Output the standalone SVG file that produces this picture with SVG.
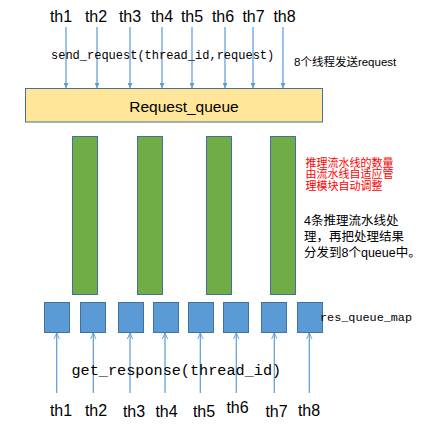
<svg xmlns="http://www.w3.org/2000/svg" width="430" height="430" viewBox="0 0 430 430">
<defs>
<marker id="tri" viewBox="0 0 10 10" refX="10" refY="5" markerWidth="5" markerHeight="5" orient="auto" markerUnits="userSpaceOnUse">
<path d="M0,0 L10,5 L0,10 z" fill="#5B9BD5"/>
</marker>
<marker id="open" viewBox="0 0 10 10" refX="9" refY="5" markerWidth="7" markerHeight="7" orient="auto" markerUnits="userSpaceOnUse">
<path d="M0,1 L9,5 L0,9" fill="none" stroke="#5B9BD5" stroke-width="1.3"/>
</marker>
<style>
.th{font-family:"Liberation Sans","DejaVu Sans",sans-serif;font-size:16px;fill:#000;text-anchor:middle}
.mono{font-family:"Liberation Mono","DejaVu Sans Mono",monospace;fill:#000}
.cjk{font-family:"Liberation Sans","Noto Sans CJK SC",sans-serif}
.arr{stroke:#5B9BD5;stroke-width:1.2;fill:none}
.pipe{fill:#70AD47;stroke:#41719C;stroke-width:1}
.q{fill:#5B9BD5;stroke:#41719C;stroke-width:1}
</style>
</defs>
<rect width="430" height="430" fill="#fff"/>
<g id="labels-top">
<text class="th" x="61" y="22">th1</text>
<text class="th" x="96" y="22">th2</text>
<text class="th" x="130" y="22">th3</text>
<text class="th" x="162" y="22">th4</text>
<text class="th" x="192" y="22">th5</text>
<text class="th" x="223" y="22">th6</text>
<text class="th" x="253.5" y="22">th7</text>
<text class="th" x="284.5" y="22">th8</text>
</g>
<g id="connectors">
<line class="arr" x1="66" y1="27" x2="66" y2="88" marker-end="url(#tri)"/>
<line class="arr" x1="97" y1="27" x2="97" y2="88" marker-end="url(#tri)"/>
<line class="arr" x1="130" y1="27" x2="130" y2="88" marker-end="url(#tri)"/>
<line class="arr" x1="162" y1="27" x2="162" y2="88" marker-end="url(#tri)"/>
<line class="arr" x1="192" y1="27" x2="192" y2="88" marker-end="url(#tri)"/>
<line class="arr" x1="225" y1="27" x2="225" y2="88" marker-end="url(#tri)"/>
<line class="arr" x1="253" y1="27" x2="253" y2="88" marker-end="url(#tri)"/>
<line class="arr" x1="283" y1="27" x2="283" y2="88" marker-end="url(#tri)"/>
<line class="arr" x1="56.7" y1="393" x2="56.7" y2="333" marker-end="url(#open)"/>
<line class="arr" x1="93.3" y1="393" x2="93.3" y2="333" marker-end="url(#open)"/>
<line class="arr" x1="130" y1="393" x2="130" y2="333" marker-end="url(#open)"/>
<line class="arr" x1="165" y1="393" x2="165" y2="333" marker-end="url(#open)"/>
<line class="arr" x1="200.3" y1="393" x2="200.3" y2="333" marker-end="url(#open)"/>
<line class="arr" x1="236.3" y1="393" x2="236.3" y2="333" marker-end="url(#open)"/>
<line class="arr" x1="274.3" y1="393" x2="274.3" y2="333" marker-end="url(#open)"/>
<line class="arr" x1="309.3" y1="393" x2="309.3" y2="333" marker-end="url(#open)"/>
</g>
<text class="mono" x="51" y="59" font-size="12">send_request(thread_id,request)</text>
<text class="cjk" x="294" y="66" font-size="11.5" fill="#000">8个线程发送request</text>
<g id="request-queue">
<rect x="25.5" y="88.5" width="297" height="33.5" fill="#FFE699" stroke="#41719C" stroke-width="1"/>
<text x="184" y="112" font-family="Liberation Sans,DejaVu Sans,sans-serif" font-size="15.5" text-anchor="middle" fill="#000">Request_queue</text>
</g>
<g id="pipelines">
<rect class="pipe" x="72.5" y="136.5" width="25" height="158"/>
<rect class="pipe" x="137.5" y="136.5" width="25" height="158"/>
<rect class="pipe" x="206.5" y="136.5" width="25" height="158"/>
<rect class="pipe" x="270.5" y="136.5" width="25" height="158"/>
</g>
<g id="note-red" class="cjk" font-size="11" fill="#FF0000">
<text x="305.5" y="166.5">推理流水线的数量</text>
<text x="305.5" y="178">由流水线自适应管</text>
<text x="305.5" y="189.5">理模块自动调整</text>
</g>
<g id="note-black" class="cjk" font-size="12.5" fill="#000">
<text x="304" y="225">4条推理流水线处</text>
<text x="304" y="241">理，再把处理结果</text>
<text x="304" y="257">分发到8个queue中。</text>
</g>
<g id="res-queues">
<rect class="q" x="44.5" y="302.5" width="25" height="30"/>
<rect class="q" x="80.5" y="302.5" width="25" height="30"/>
<rect class="q" x="118.5" y="302.5" width="25" height="30"/>
<rect class="q" x="153.5" y="302.5" width="25" height="30"/>
<rect class="q" x="188.5" y="302.5" width="25" height="30"/>
<rect class="q" x="223.5" y="302.5" width="25" height="30"/>
<rect class="q" x="261.5" y="302.5" width="25" height="30"/>
<rect class="q" x="297.5" y="302.5" width="25" height="30"/>
</g>
<text class="mono" x="320" y="321" font-size="11.8">res_queue_map</text>
<text class="mono" x="71.5" y="375" font-size="15.2">get_response(thread_id)</text>
<g id="labels-bottom">
<text class="th" x="61" y="416">th1</text>
<text class="th" x="96" y="416">th2</text>
<text class="th" x="134" y="417">th3</text>
<text class="th" x="166.5" y="417">th4</text>
<text class="th" x="204" y="417">th5</text>
<text class="th" x="237.5" y="413">th6</text>
<text class="th" x="276.5" y="417">th7</text>
<text class="th" x="309" y="416">th8</text>
</g>
</svg>
